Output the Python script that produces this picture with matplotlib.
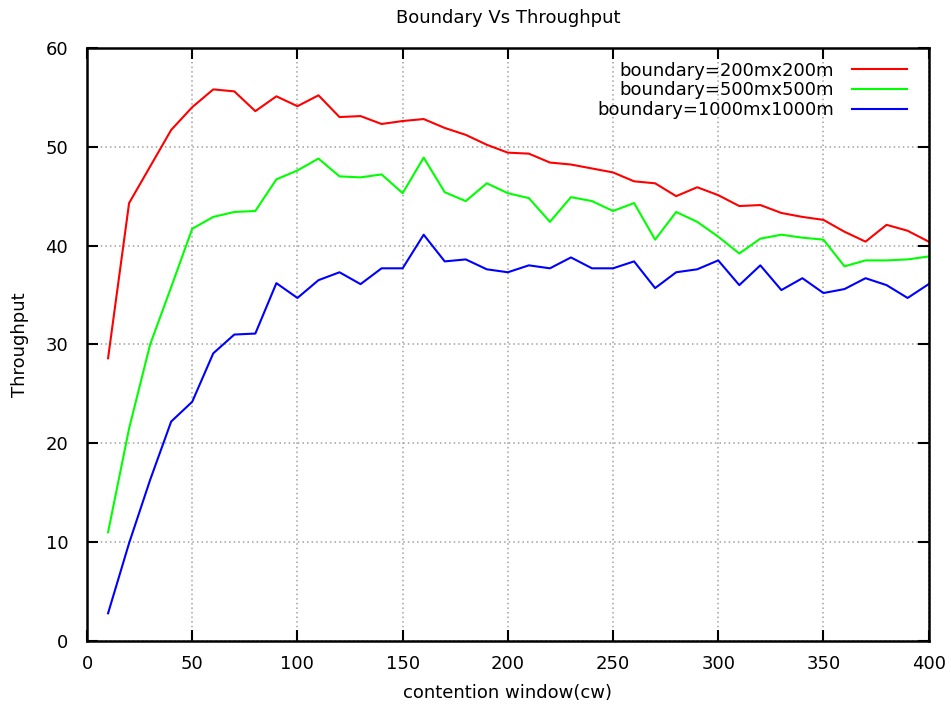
import matplotlib
matplotlib.use("Agg")
import matplotlib.pyplot as plt

cw = list(range(10, 401, 10))

thr_200 = [28.6, 44.3, 48.0, 51.7, 54.0, 55.8, 55.6, 53.6, 55.1, 54.1,
           55.2, 53.0, 53.1, 52.3, 52.6, 52.8, 51.9, 51.2, 50.2, 49.4,
           49.3, 48.4, 48.2, 47.8, 47.4, 46.5, 46.3, 45.0, 45.9, 45.1,
           44.0, 44.1, 43.3, 42.9, 42.6, 41.4, 40.4, 42.1, 41.5, 40.4]

thr_500 = [11.0, 21.5, 30.0, 35.8, 41.7, 42.9, 43.4, 43.5, 46.7, 47.6,
           48.8, 47.0, 46.9, 47.2, 45.3, 48.9, 45.4, 44.5, 46.3, 45.3,
           44.8, 42.4, 44.9, 44.5, 43.5, 44.3, 40.6, 43.4, 42.4, 40.9,
           39.2, 40.7, 41.1, 40.8, 40.6, 37.9, 38.5, 38.5, 38.6, 38.9]

thr_1000 = [2.8, 9.9, 16.3, 22.2, 24.2, 29.1, 31.0, 31.1, 36.2, 34.7,
            36.5, 37.3, 36.1, 37.7, 37.7, 41.1, 38.4, 38.6, 37.6, 37.3,
            38.0, 37.7, 38.8, 37.7, 37.7, 38.4, 35.7, 37.3, 37.6, 38.5,
            36.0, 38.0, 35.5, 36.7, 35.2, 35.6, 36.7, 36.0, 34.7, 36.1]

labels = ["boundary=200mx200m", "boundary=500mx500m", "boundary=1000mx1000m"]
colors = ["#ff0000", "#00ff00", "#0000ff"]

x_ticks = [0, 50, 100, 150, 200, 250, 300, 350, 400]
y_ticks = [0, 10, 20, 30, 40, 50, 60]

plt.rcParams['font.family'] = ['DejaVu Sans']
fig = plt.figure(figsize=(9.51, 7.04), dpi=100)
ax = fig.add_axes([0.0915, 0.0895, 0.885, 0.8425])

for y, lab, c in zip([thr_200, thr_500, thr_1000], labels, colors):
    ax.plot(cw, y, color=c, lw=1.5, label=lab)

ax.set_xlim(0, 400)
ax.set_ylim(0, 60)
ax.set_xticks(x_ticks)
ax.set_yticks(y_ticks)
ax.grid(True, linestyle=(0, (1, 2)), color='#a0a0a0', lw=1.1)
ax.tick_params(direction='in', length=8, width=1.5, top=True, right=True,
               labelsize=13)
ax.tick_params(axis='x', pad=10)
ax.tick_params(axis='y', pad=13.5)
for s in ax.spines.values():
    s.set_linewidth(1.8)

ax.set_title("Boundary Vs Throughput", fontsize=13, pad=18)
ax.set_xlabel("contention window(cw)", fontsize=13, labelpad=8)
ax.set_ylabel("Throughput", fontsize=13, labelpad=12)

ax.legend(loc='upper right', bbox_to_anchor=(1.0, 1.0135), frameon=False,
          markerfirst=False, fontsize=13,
          handlelength=3.05, handletextpad=1.0, labelspacing=0.1,
          borderaxespad=0.8)

fig.savefig("out.png", dpi=100)
